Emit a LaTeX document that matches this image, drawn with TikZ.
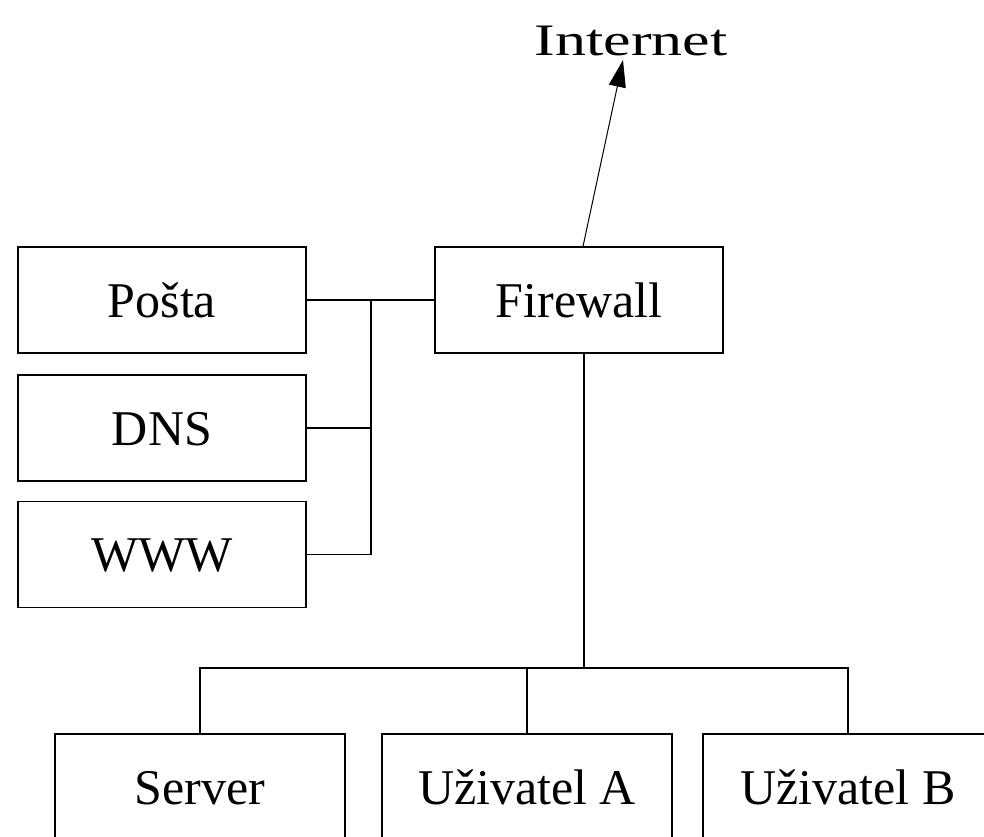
\documentclass[tikz,border=0pt]{standalone}
\usepackage{fontspec}
\setmainfont{Liberation Serif}
\usetikzlibrary{arrows.meta,calc}
\begin{document}
\begin{tikzpicture}[x=1pt,y=-1pt,
  box/.style={draw, line width=1.3pt, minimum width=288pt, minimum height=106pt,
    inner sep=0pt, font=\fontsize{50}{60}\selectfont, text height=34pt, text depth=0pt},
  wide/.style={box, minimum width=290pt},
  wire/.style={line width=1.3pt},
  uplink/.style={line width=1pt, -{Triangle[length=27pt,width=17pt]}}]
  \useasboundingbox (0,0) rectangle (984,836);
  \clip (0,0) rectangle (984,836);

  % servers in the DMZ
  \node[box] (posta) at (162,300) {Pošta};
  \node[box] (dns)   at (162,428) {DNS};
  \node[box] (www)   at (162,554.5) {WWW};
  \node[box] (fw)    at (579,300) {Firewall};

  % internal network
  \node[wide] (server) at (200,787) {Server};
  \node[wide] (ua)     at (527,787) {Uživatel A};
  \node[wide] (ub)     at (848,787) {Uživatel B};

  \node[anchor=base, inner sep=0pt] (inet) at (631,55)
    {\scalebox{1.24}[0.9]{\fontsize{50}{60}\selectfont Internet}};

  % DMZ wiring
  \coordinate (dmz) at (371,300);
  \draw[wire] (posta.east) -- (fw.west);
  \draw[wire] (dns.east) -| (dmz);
  \draw[wire] (www.east) -| (dmz);

  % internal bus
  \coordinate (bus) at (584,668);
  \draw[wire] (fw.south -| bus) -- (bus);
  \draw[wire] (server.north) |- (ub.north |- bus) -- (ub.north);
  \draw[wire] (ua.north) -- (ua.north |- bus);

  % uplink
  \draw[uplink] ($(fw.north)+(4,0)$) -- ($(inet.base)+(-8,5)$);
\end{tikzpicture}
\end{document}
